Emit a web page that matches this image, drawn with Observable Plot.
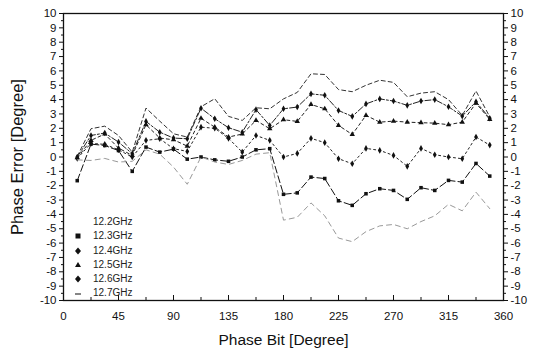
<!DOCTYPE html>
<html><head><meta charset="utf-8">
<script src="https://cdn.jsdelivr.net/npm/d3@7"></script>
<script src="https://cdn.jsdelivr.net/npm/@observablehq/plot@0.6"></script>
<style>
body{margin:0;background:#fff;font-family:"Liberation Sans",Arial,sans-serif;}
#wrap{position:relative;width:536px;height:352px;}
#legend{position:absolute;left:71px;top:215px;font-size:10px;color:#222;line-height:14.3px;}
#legend div{display:flex;align-items:center;height:14.3px;}
#legend svg{width:14px;height:10px;margin-right:8px;}
g[aria-label="x-axis label"] text{font-size:15.5px;}
g[aria-label="y-axis label"] text{font-size:16.5px;}
</style></head><body><div id="wrap"></div>
<script>
const phaseBit = [11.25,22.5,33.75,45,56.25,67.5,78.75,90,101.25,112.5,123.75,135,146.25,157.5,168.75,180,191.25,202.5,213.75,225,236.25,247.5,258.75,270,281.25,292.5,303.75,315,326.25,337.5,348.75];
const f122 = [0.05,1.97,2.15,1.5,0.34,3.41,2.5,1.62,1.39,3.5,4.06,2.83,2.55,3.43,3.36,4.05,4.5,5.8,5.75,4.7,4.55,5.0,5.35,5.2,4.2,4.45,4.55,4.0,2.9,4.6,2.8];
const f124 = [0.0,1.5,1.67,1.04,0.23,2.48,1.73,1.32,1.27,3.4,2.67,2.04,1.73,3.3,2.2,3.36,3.48,4.4,4.3,3.24,2.83,3.7,4.05,3.9,3.6,3.9,4.0,3.5,2.85,3.85,2.7];
const f125 = [-0.05,1.16,1.6,0.62,0.11,2.25,1.32,1.2,0.76,2.7,2.08,1.39,1.6,2.55,1.97,2.6,2.48,3.66,3.36,2.2,1.57,2.9,2.43,2.5,2.43,2.39,2.36,2.25,2.43,3.75,2.62];
const f126 = [-0.1,0.95,0.88,0.5,0.0,1.16,1.27,0.58,0.39,2.08,2.0,1.3,0.34,1.5,1.16,0.0,0.25,1.3,1.0,-0.12,-0.47,0.6,0.46,0.11,-0.65,0.6,0.16,0.0,-0.12,1.39,0.83];
const f123 = [-1.65,0.9,0.8,0.45,-1.0,0.69,0.34,0.55,-0.15,0.0,-0.2,-0.3,0.0,0.5,0.58,-2.6,-2.5,-1.4,-1.5,-3.05,-3.37,-2.56,-2.21,-2.33,-2.95,-2.14,-2.33,-1.63,-1.75,-0.45,-1.33];
const f127 = [-0.2,-0.24,-0.1,-0.35,-0.3,0.5,0.2,-0.7,-1.9,0.0,-0.35,-0.52,-0.24,0.2,0.3,-4.4,-4.2,-3.2,-4.1,-5.65,-5.9,-5.2,-4.8,-4.7,-5.0,-4.5,-4.1,-3.3,-3.75,-2.45,-3.6];
const xTicks = [0,45,90,135,180,225,270,315,360];
const xMinor = [22.5,67.5,112.5,157.5,202.5,247.5,292.5,337.5];
const yTicks = [-10,-9,-8,-7,-6,-5,-4,-3,-2,-1,0,1,2,3,4,5,6,7,8,9,10];
const yMinor = [-9.5,-8.5,-7.5,-6.5,-5.5,-4.5,-3.5,-2.5,-1.5,-0.5,0.5,1.5,2.5,3.5,4.5,5.5,6.5,7.5,8.5,9.5];

const series = [
  {name:"12.2GHz", values:f122, symbol:null, stroke:"#333", dash:"4,3"},
  {name:"12.3GHz", values:f123, symbol:"square", stroke:"#111", dash:"7,3"},
  {name:"12.4GHz", values:f124, symbol:"diamond", stroke:"#222", dash:"6,2,2,2"},
  {name:"12.5GHz", values:f125, symbol:"triangle", stroke:"#222", dash:"3,3"},
  {name:"12.6GHz", values:f126, symbol:"diamond", stroke:"#222", dash:"2,3"},
  {name:"12.7GHz", values:f127, symbol:null, stroke:"#999", dash:"5,4"}
];
const rows = s => s.values.map((v,i)=>({x:phaseBit[i], y:v, s:s.name}));

const marks = [];
for (const s of series) {
  marks.push(Plot.line(rows(s), {x:"x", y:"y", stroke:s.stroke, strokeWidth:1, strokeDasharray:s.dash}));
  if (s.symbol) marks.push(Plot.dot(rows(s), {x:"x", y:"y", symbol:s.symbol, fill:"#111", stroke:"none", r:2.0}));
}

const fmt = d => String(d);
const chart = Plot.plot({
  width:536, height:352, marginLeft:63, marginRight:33, marginTop:13, marginBottom:52,
  style:{fontFamily:"Liberation Sans, Arial, sans-serif", fontSize:"11.5px", color:"#111", background:"#fff"},
  x:{domain:[0,360]},
  y:{domain:[-10,10]},
  marks:[
    Plot.axisX({ticks:xTicks, tickSize:0, tickPadding:11, tickFormat:fmt, label:"Phase Bit [Degree]", labelAnchor:"center", labelOffset:44, labelArrow:"none"}),
    Plot.axisX({ticks:xTicks, tickSize:-5, text:null, label:null}),
    Plot.axisX({ticks:xMinor, tickSize:-3, text:null, label:null}),
    Plot.axisY({anchor:"left", ticks:yTicks, tickSize:4, tickPadding:3, tickFormat:fmt, label:"Phase Error [Degree]", labelAnchor:"center", labelOffset:52, labelArrow:"none"}),
    Plot.axisY({anchor:"left", ticks:yMinor, tickSize:2, text:null, label:null}),
    Plot.axisY({anchor:"right", ticks:yTicks, tickSize:4, tickPadding:3, tickFormat:fmt, label:null}),
    Plot.axisY({anchor:"right", ticks:yMinor, tickSize:2, text:null, label:null}),
    ...marks,
    Plot.frame({stroke:"#111", strokeWidth:1.3})
  ]
});
const wrap = document.getElementById("wrap");
wrap.appendChild(chart);

const legend = document.createElement("div");
legend.id = "legend";
const symPath = {square:"M4.5,2.5h5v5h-5z", diamond:"M7,1.5l3,3.5l-3,3.5l-3,-3.5z", triangle:"M7,2l3,5h-6z"};
for (const s of series) {
  const row = document.createElement("div");
  let inner = "";
  if (s.symbol) inner = `<path d="${symPath[s.symbol]}" fill="#111"/>`;
  else if (s.name === "12.7GHz") inner = `<line x1="4" x2="10" y1="5" y2="5" stroke="#333" stroke-width="1.2"/>`;
  row.innerHTML = `<svg viewBox="0 0 14 10">${inner}</svg><span>${s.name}</span>`;
  legend.appendChild(row);
}
wrap.appendChild(legend);
</script>
</body></html>
